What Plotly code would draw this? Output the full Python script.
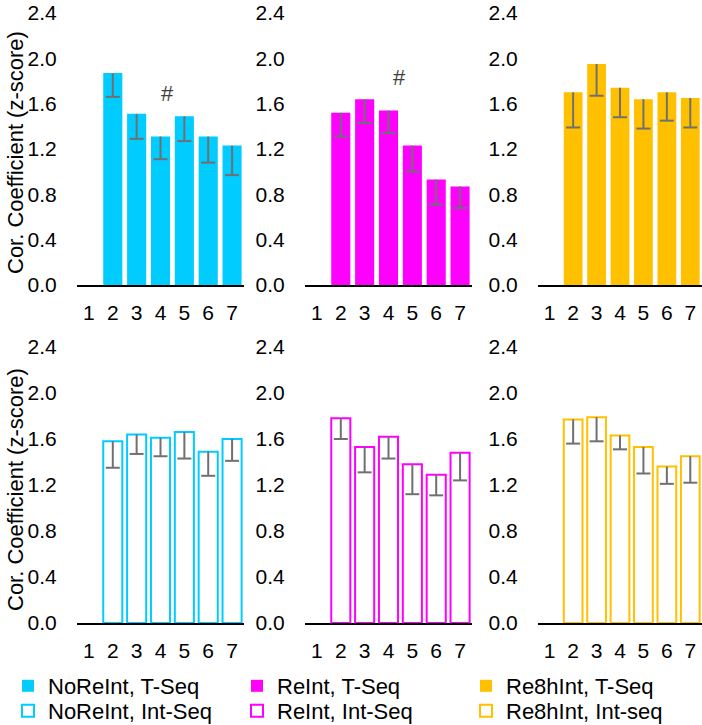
import plotly.graph_objects as go

categories = [1, 2, 3, 4, 5, 6, 7]
y_ticks = [0.0, 0.4, 0.8, 1.2, 1.6, 2.0, 2.4]

noreint_tseq = [None, 1.87, 1.51, 1.31, 1.49, 1.31, 1.23]
noreint_tseq_err = [None, 0.21, 0.22, 0.20, 0.22, 0.23, 0.26]
reint_tseq = [None, 1.52, 1.64, 1.54, 1.23, 0.93, 0.87]
reint_tseq_err = [None, 0.21, 0.21, 0.20, 0.23, 0.22, 0.19]
re8h_tseq = [None, 1.70, 1.95, 1.74, 1.64, 1.70, 1.65]
re8h_tseq_err = [None, 0.31, 0.28, 0.26, 0.26, 0.25, 0.26]

noreint_intseq = [None, 1.58, 1.64, 1.61, 1.66, 1.49, 1.60]
noreint_intseq_err = [None, 0.23, 0.17, 0.16, 0.23, 0.21, 0.19]
reint_intseq = [None, 1.78, 1.53, 1.62, 1.38, 1.29, 1.48]
reint_intseq_err = [None, 0.18, 0.22, 0.19, 0.26, 0.18, 0.24]
re8h_intseq = [None, 1.77, 1.79, 1.63, 1.53, 1.36, 1.45]
re8h_intseq_err = [None, 0.21, 0.21, 0.12, 0.23, 0.15, 0.23]

names = ["NoReInt, T-Seq", "ReInt, T-Seq", "Re8hInt, T-Seq",
         "NoReInt, Int-Seq", "ReInt, Int-Seq", "Re8hInt, Int-seq"]
colors = ["#00CCFF", "#FF00FF", "#FFC000"]
hash_marks = [(1, 4.3, 1.69), (2, 4.45, 1.83)]  # (panel, x, y)

FONT = "Liberation Sans, Arial, sans-serif"
ERR_COLOR = "#707070"

panels = [
    (noreint_tseq, noreint_tseq_err, 0, True),
    (reint_tseq, reint_tseq_err, 1, True),
    (re8h_tseq, re8h_tseq_err, 2, True),
    (noreint_intseq, noreint_intseq_err, 0, False),
    (reint_intseq, reint_intseq_err, 1, False),
    (re8h_intseq, re8h_intseq_err, 2, False),
]

W, H = 702, 725
xdoms = [(77 / W, 244 / W), (305 / W, 472 / W), (538 / W, 702 / W)]
ydoms = [((H - 285) / H, (H - 13) / H), ((H - 623) / H, (H - 347) / H)]

fig = go.Figure()

for i, (vals, errs, ci, filled) in enumerate(panels):
    ax = "" if i == 0 else str(i + 1)
    xa, ya = "x" + ax, "y" + ax
    col = colors[ci]
    fig.add_trace(go.Bar(
        x=categories, y=vals, name=names[i], xaxis=xa, yaxis=ya,
        marker=dict(color=col if filled else "white",
                    line=dict(color=col, width=0 if filled else 2)),
        error_y=dict(type="data", symmetric=False,
                     array=[0 if e is not None else None for e in errs],
                     arrayminus=errs, width=0, thickness=2, color=ERR_COLOR),
        legend="legend" if filled else "legend2",
        showlegend=True,
    ))
    low = [v - e if v is not None else None for v, e in zip(vals, errs)]
    fig.add_trace(go.Scatter(
        x=categories, y=low, xaxis=xa, yaxis=ya, mode="markers",
        marker=dict(symbol="line-ew", size=10, color=ERR_COLOR,
                    line=dict(color=ERR_COLOR, width=2)),
        showlegend=False, hoverinfo="skip",
    ))

    row = 0 if i < 3 else 1
    xkey = "xaxis" + ax
    ykey = "yaxis" + ax
    fig.layout[xkey] = dict(
        domain=xdoms[ci], anchor=ya, range=[0.5, 7.5],
        tickvals=categories, ticks="outside", ticklen=8,
        tickcolor="rgba(0,0,0,0)", showline=True, linecolor="black",
        linewidth=2, showgrid=False, zeroline=False,
        tickfont=dict(family=FONT, size=21, color="black"),
    )
    fig.layout[ykey] = dict(
        domain=ydoms[row], anchor=xa, range=[0, 2.4],
        tickvals=y_ticks, tickformat=".1f", ticks="outside", ticklen=15,
        tickcolor="rgba(0,0,0,0)", showline=False, showgrid=False,
        zeroline=False,
        tickfont=dict(family=FONT, size=21, color="black"),
    )

annotations = []
for (p, hx, hy) in hash_marks:
    ax = "" if p == 1 else str(p)
    annotations.append(dict(
        x=hx, y=hy, xref="x" + ax, yref="y" + ax, text="#", showarrow=False,
        font=dict(family=FONT, size=22, color="#404040"),
    ))
for yc in [(H - 153) / H, (H - 490) / H]:
    annotations.append(dict(
        x=15 / W, y=yc, xref="paper", yref="paper", textangle=-90,
        text="Cor. Coefficient (z-score)", showarrow=False,
        xanchor="center", yanchor="middle",
        font=dict(family=FONT, size=22, color="black"),
    ))

legend_common = dict(
    orientation="h", xanchor="left", yanchor="middle",
    entrywidth=184, entrywidthmode="pixels", bgcolor="rgba(0,0,0,0)",
    font=dict(family=FONT, size=22, color="black"), tracegroupgap=0,
    itemclick=False, itemdoubleclick=False,
)

fig.update_layout(
    width=W, height=H,
    margin=dict(l=0, r=0, t=0, b=0, autoexpand=False),
    paper_bgcolor="white", plot_bgcolor="white",
    bargap=0.2, showlegend=True,
    legend=dict(x=8 / W, y=(H - 686) / H, **legend_common),
    legend2=dict(x=8 / W, y=(H - 711) / H, **legend_common),
    annotations=annotations,
    font=dict(family=FONT, color="black"),
)

fig.write_html("out.html",
               config={"displayModeBar": False},
               post_script="document.body.style.margin='0';document.body.style.overflow='hidden';")
